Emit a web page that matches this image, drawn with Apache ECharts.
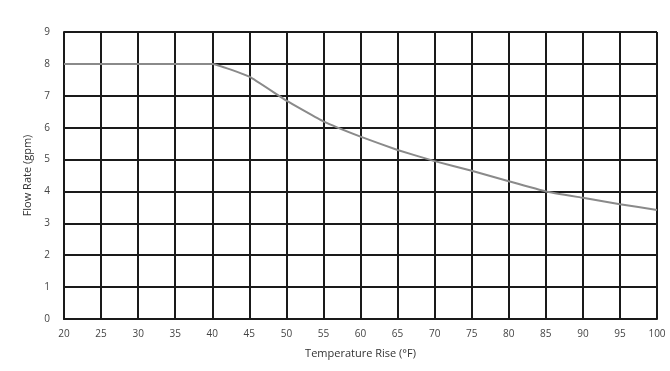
<!DOCTYPE html>
<html>
<head>
<meta charset="utf-8">
<script src="https://cdn.jsdelivr.net/npm/echarts@6/dist/echarts.min.js"></script>
<style>html,body{margin:0;padding:0;background:#fff;}#c{width:670px;height:371px;}</style>
</head>
<body>
<div id="c"></div>
<script>
var tempRise = [20, 40, 45, 50, 55, 60, 65, 70, 75, 80, 85, 90, 95, 100];
var flowRate = [8, 8, 7.6, 6.85, 6.2, 5.72, 5.3, 4.95, 4.65, 4.32, 4.0, 3.8, 3.6, 3.42];
var xTicks = [20,25,30,35,40,45,50,55,60,65,70,75,80,85,90,95,100];
var yTicks = [0,1,2,3,4,5,6,7,8,9];

var chart = echarts.init(document.getElementById('c'));
var gridLine = {show: true, lineStyle: {color: '#1a1a1a', width: 2}};
chart.setOption({
  animation: false,
  grid: {left: 64, right: 13, top: 32, bottom: 52},
  xAxis: {
    type: 'value', min: 20, max: 100, interval: 5,
    name: 'Temperature Rise (°F)', nameLocation: 'middle', nameGap: 29,
    nameTextStyle: {fontFamily: 'Open Sans', fontSize: 11, color: '#333'},
    axisLine: {show: true, lineStyle: {color: '#1a1a1a', width: 2}},
    axisTick: {show: false},
    splitLine: gridLine,
    axisLabel: {fontFamily: 'Open Sans', fontSize: 10, color: '#444', margin: 10}
  },
  yAxis: {
    type: 'value', min: 0, max: 9, interval: 1,
    name: 'Flow Rate (gpm)', nameLocation: 'middle', nameGap: 26,
    nameTextStyle: {fontFamily: 'Open Sans', fontSize: 11, color: '#333'},
    axisLine: {show: true, lineStyle: {color: '#1a1a1a', width: 2}},
    axisTick: {show: false},
    splitLine: gridLine,
    axisLabel: {fontFamily: 'Open Sans', fontSize: 10, color: '#444', margin: 14}
  },
  series: [{
    type: 'line',
    data: tempRise.map(function(x, i){ return [x, flowRate[i]]; }),
    showSymbol: false,
    smooth: 0.1,
    lineStyle: {color: '#8a8a8a', width: 2},
    z: 5
  }]
});
</script>
</body>
</html>
